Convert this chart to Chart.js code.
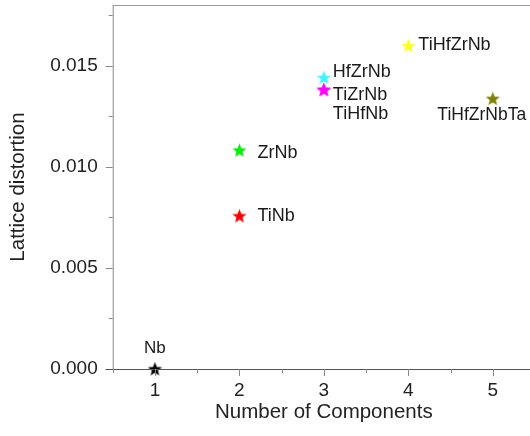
<!DOCTYPE html>
<html>
<head>
<meta charset="utf-8">
<script src="https://cdn.jsdelivr.net/npm/chart.js@4.4.0/dist/chart.umd.min.js"></script>
<style>
html, body { margin: 0; padding: 0; background: #fff; overflow: hidden; }
#wrap { width: 540px; height: 436px; }
</style>
</head>
<body>
<div id="wrap"><canvas id="chart" width="540" height="436"></canvas></div>
<script>
// values
const alloys = ['Nb', 'TiNb', 'ZrNb', 'HfZrNb', 'TiHfNb', 'TiZrNb', 'TiHfZrNb', 'TiHfZrNbTa'];
const components = [1, 2, 2, 3, 3, 3, 4, 5];
const distortion = [0.0000, 0.00757, 0.01082, 0.01441, 0.01381, 0.01381, 0.01599, 0.01337];
const starColors = ['#000000', '#ff0000', '#00f000', '#40f4ff', '#ff00ff', '#ff00ff', '#ffff1a', '#808000'];
const xTicks = [1, 2, 3, 4, 5];
const yTicks = [0, 0.005, 0.010, 0.015];

// label placement relative to each star (dx, dy in px, alignment)
const labelDx = [0, 18, 18, 9, 9, 9, 10, -11];
const labelDy = [-21, 0, 3, -6, 24, 5, -1, 17];
const labelAlign = ['center', 'left', 'left', 'left', 'left', 'left', 'left', 'center'];
const labelSize = [17, 18, 18, 18, 18, 18, 18, 17.5];

const FONT = "'Liberation Sans', Arial, sans-serif";

function makeStar(color, r) {
    const size = Math.ceil(r * 2 + 2);
    const cv = document.createElement('canvas');
    cv.width = size; cv.height = size;
    const c = cv.getContext('2d');
    const cx = size / 2, cy = size / 2 + 0.5;
    c.beginPath();
    for (let k = 0; k < 10; k++) {
        const rad = k % 2 === 0 ? r : r * 0.42;
        const a = -Math.PI / 2 + k * Math.PI / 5;
        const px = cx + rad * Math.cos(a), py = cy + rad * Math.sin(a);
        if (k === 0) c.moveTo(px, py); else c.lineTo(px, py);
    }
    c.closePath();
    c.fillStyle = color;
    c.fill();
    return cv;
}

const stars = starColors.map(col => makeStar(col, 7.5));

// no extra room for overflowing tick labels
function noPad(s) {
    s.paddingTop = 0; s.paddingBottom = 0;
    s.paddingLeft = 0; s.paddingRight = 0;
}

const axesPlugin = {
    id: 'axes',
    afterDraw(chart) {
        const ctx = chart.ctx;
        const xs = chart.scales.x, ys = chart.scales.y;
        const a = chart.chartArea;
        ctx.save();
        ctx.lineWidth = 1;
        // top frame line
        ctx.strokeStyle = '#9a9a9a';
        ctx.beginPath();
        ctx.moveTo(a.left, a.top + 0.5); ctx.lineTo(a.right, a.top + 0.5);
        ctx.stroke();
        // left axis
        ctx.strokeStyle = '#8a8a8a';
        ctx.beginPath();
        ctx.moveTo(a.left + 0.5, a.top); ctx.lineTo(a.left + 0.5, a.bottom);
        yTicks.forEach(v => {
            const y = Math.round(ys.getPixelForValue(v)) + 0.5;
            ctx.moveTo(a.left - 7, y); ctx.lineTo(a.left, y);
        });
        for (let i = 0; i < yTicks.length; i++) {
            const v = yTicks[i] + 0.0025;
            if (v > ys.max) break;
            const y = Math.round(ys.getPixelForValue(v)) + 0.5;
            ctx.moveTo(a.left - 4, y); ctx.lineTo(a.left, y);
        }
        ctx.stroke();
        // bottom axis
        ctx.strokeStyle = '#555';
        ctx.beginPath();
        ctx.moveTo(a.left - 7, a.bottom + 0.5); ctx.lineTo(a.right, a.bottom + 0.5);
        ctx.stroke();
        ctx.strokeStyle = '#888';
        ctx.beginPath();
        xTicks.forEach(v => {
            const x = Math.round(xs.getPixelForValue(v)) + 0.5;
            ctx.moveTo(x, a.bottom); ctx.lineTo(x, a.bottom + 7);
        });
        xTicks.concat([0]).forEach(v => {
            const x = Math.round(xs.getPixelForValue(v + 0.5)) + 0.5;
            ctx.moveTo(x, a.bottom); ctx.lineTo(x, a.bottom + 4);
        });
        ctx.stroke();
        ctx.restore();
    }
};

const labelPlugin = {
    id: 'starLabels',
    afterDatasetsDraw(chart) {
        const ctx = chart.ctx;
        const meta = chart.getDatasetMeta(0);
        ctx.save();
        ctx.fillStyle = '#1a1a1a';
        ctx.textBaseline = 'middle';
        meta.data.forEach((pt, i) => {
            ctx.font = labelSize[i] + 'px ' + FONT;
            ctx.textAlign = labelAlign[i];
            ctx.fillText(alloys[i], pt.x + labelDx[i], pt.y + labelDy[i]);
        });
        ctx.restore();
    }
};

const ctx = document.getElementById('chart').getContext('2d');
const chart = new Chart(ctx, {
    type: 'scatter',
    data: {
        datasets: [{
            data: components.map((c, i) => ({ x: c, y: distortion[i] })),
            pointStyle: stars,
            pointRadius: 8,
            clip: false
        }]
    },
    options: {
        responsive: false,
        animation: false,
        layout: { autoPadding: false, padding: { top: 5, right: 5, left: 0, bottom: 0 } },
        plugins: {
            legend: { display: false },
            tooltip: { enabled: false }
        },
        scales: {
            x: {
                type: 'linear',
                min: 0.5,
                max: 5.5,
                afterBuildTicks: s => { s.ticks = xTicks.map(v => ({ value: v })); },
                afterFit: s => { s.height = 67; noPad(s); },
                grid: { display: false, drawTicks: false },
                border: { display: false },
                ticks: {
                    padding: 10,
                    color: '#222',
                    font: { family: FONT, size: 19 },
                    callback: v => String(v)
                },
                title: {
                    display: true,
                    text: 'Number of Components',
                    color: '#222',
                    font: { family: FONT, size: 20.5 },
                    padding: { top: 0, bottom: 11 }
                }
            },
            y: {
                min: 0,
                max: 0.018,
                afterBuildTicks: s => { s.ticks = yTicks.map(v => ({ value: v })); },
                afterFit: s => { s.width = 112.7; noPad(s); },
                grid: { display: false, drawTicks: false },
                border: { display: false },
                ticks: {
                    padding: 15,
                    color: '#222',
                    font: { family: FONT, size: 19 },
                    callback: v => v.toFixed(3)
                },
                title: {
                    display: true,
                    text: 'Lattice distortion',
                    color: '#222',
                    font: { family: FONT, size: 20.5 },
                    padding: { top: 6, bottom: 0 }
                }
            }
        }
    },
    plugins: [axesPlugin, labelPlugin]
});
</script>
</body>
</html>
